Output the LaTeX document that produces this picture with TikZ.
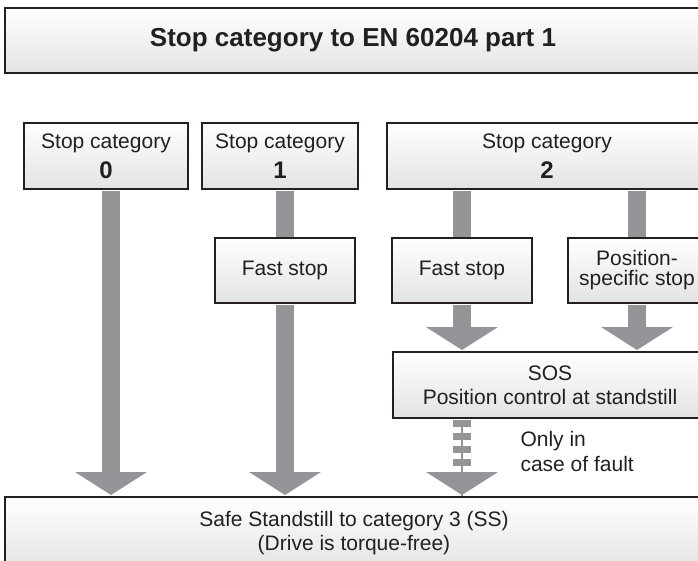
\documentclass[tikz,border=0pt]{standalone}
\usepackage{fontspec}
\setmainfont{Liberation Sans}
\usetikzlibrary{arrows.meta}

\definecolor{edge}{RGB}{35,31,32}
\definecolor{boxbot}{RGB}{226,227,229}
\definecolor{flowgray}{RGB}{147,149,152}

\tikzstyle{stopbox} = [rectangle, draw=edge, line width=2pt, top color=white, bottom color=boxbot,
text=edge, align=center, inner sep=0pt, font=\fontsize{21}{24}\selectfont]
\tikzstyle{heading} = [stopbox, font=\fontsize{26}{30}\selectfont\bfseries]
\tikzstyle{stem} = [line width=18pt, draw=flowgray, shorten <=1pt]
\tikzstyle{flow} = [stem, shorten >=1pt, -{Triangle[width=72pt,length=23pt,line width=0pt]}]

\newcommand{\catnum}[1]{{\fontsize{24}{28}\selectfont\bfseries #1}}

\begin{document}
\begin{tikzpicture}[x=1pt, y=-1pt]
	\clip (0,0) rectangle (698,561);
	%title
	\node[heading, minimum width=696, minimum height=65] (title) at (353,40.5) {Stop category to EN 60204 part 1};
	%stop categories
	\node[stopbox, minimum width=164, minimum height=66] (cat0) at (106,156) {Stop category\\[6pt]\catnum{0}};
	\node[stopbox, minimum width=156, minimum height=66] (cat1) at (280,156) {Stop category\\[6pt]\catnum{1}};
	\node[stopbox, minimum width=320, minimum height=66] (cat2) at (547,156) {Stop category\\[6pt]\catnum{2}};
	%intermediate steps
	\node[stopbox, minimum width=140, minimum height=65] (fast1) at (285,270.5) {Fast stop};
	\node[stopbox, minimum width=140, minimum height=65] (fast2) at (462,270.5) {Fast stop};
	\node[stopbox, minimum width=138, minimum height=65] (posstop) at (637,270.5) {Position-\\[-4pt]specific stop};
	\node[stopbox, minimum width=314, minimum height=66] (sos) at (550,385) {SOS\\Position control at standstill};
	%standstill
	\node[stopbox, minimum width=698, minimum height=72] (ss) at (354,533) {Safe Standstill to category 3 (SS)\\(Drive is torque-free)};
	\node[anchor=west, align=left, text=edge, font=\fontsize{21}{25}\selectfont] (fault) at (517,451) {Only in\\case of fault};

	%edges
	\draw[flow] ([xshift=5pt]cat0.south) -- ([xshift=5pt]cat0.south |- ss.north);
	\draw[stem] (cat1.south -| fast1.north) -- (fast1.north);
	\draw[flow] (fast1.south) -- (fast1.south |- ss.north);
	\draw[stem] (cat2.south -| fast2.north) -- (fast2.north);
	\draw[stem] (cat2.south -| posstop.north) -- (posstop.north);
	\draw[flow] (fast2.south) -- (fast2.south |- sos.north);
	\draw[flow] (posstop.south) -- (posstop.south |- sos.north);
	\draw[line width=2.5pt, flowgray, shorten <=1pt] (sos.south -| fast2.south) -- (fast2.south |- ss.north);
	\draw[flow, dash pattern=on 7pt off 6pt] (sos.south -| fast2.south) -- (fast2.south |- ss.north);
\end{tikzpicture}
\end{document}
